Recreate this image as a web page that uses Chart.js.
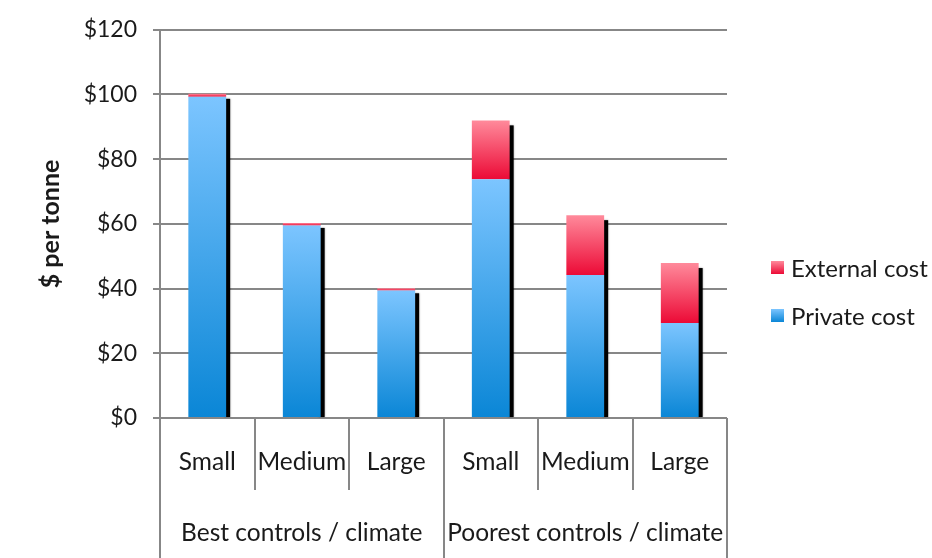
<!DOCTYPE html>
<html>
<head>
<meta charset="utf-8">
<script src="https://cdn.jsdelivr.net/npm/chart.js@4/dist/chart.umd.min.js"></script>
<style>
  html, body { margin: 0; padding: 0; background: #fff; }
  #wrap { position: relative; width: 932px; height: 558px; }
  #legend { position: absolute; left: 771px; top: 243px; font-family: Lato, sans-serif; font-size: 24px; color: #1a1a1a; }
  .item { display: flex; align-items: center; height: 48px; white-space: nowrap; }
  .sw { width: 13px; height: 13px; margin-right: 7px; }
</style>
</head>
<body>
<div id="wrap">
  <canvas id="c" width="932" height="558"></canvas>
  <div id="legend"></div>
</div>
<script>
// Cost per tonne by plant size, under two control / climate scenarios
const sizes = ['Small', 'Medium', 'Large', 'Small', 'Medium', 'Large'];
const groups = ['Best controls / climate', 'Poorest controls / climate'];
const privateCost = [99.3, 59.5, 39.4, 73.8, 44.2, 29.4];
const externalCost = [0.9, 0.8, 0.7, 18.2, 18.5, 18.5];
const yMin = 0, yMax = 120, yStep = 20;

const FONT = 'Lato, sans-serif';
const GRID = '#878787';
const TEXT = '#1a1a1a';

const blue = { top: '#7cc5ff', bottom: '#0a86d6' };
const red = { top: '#ff8a9b', bottom: '#ec0a36' };

// Vertical gradient per bar segment, from the segment's own value range
function segmentFill(colors, startOf, endOf) {
  return (c) => {
    const chart = c.chart;
    const y = chart.scales.y;
    if (c.type !== 'data' || !y || !chart.chartArea) return colors.bottom;
    const i = c.dataIndex;
    const y0 = y.getPixelForValue(startOf(i));
    const y1 = y.getPixelForValue(endOf(i));
    if (!isFinite(y0) || !isFinite(y1) || y0 === y1) return colors.bottom;
    const g = chart.ctx.createLinearGradient(0, y1, 0, y0);
    g.addColorStop(0, colors.top);
    g.addColorStop(1, colors.bottom);
    return g;
  };
}

// Dark drop shadow on the right side of each stacked column
const columnShadow = {
  id: 'columnShadow',
  beforeDatasetsDraw(chart) {
    const { ctx, chartArea } = chart;
    const topMeta = chart.getDatasetMeta(chart.data.datasets.length - 1);
    const baseMeta = chart.getDatasetMeta(0);
    ctx.save();
    ctx.beginPath();
    ctx.rect(chartArea.left, chartArea.top, chartArea.right - chartArea.left, chartArea.bottom - chartArea.top);
    ctx.clip();
    ctx.fillStyle = '#000';
    ctx.shadowColor = 'rgba(0,0,0,0.45)';
    ctx.shadowBlur = 2;
    topMeta.data.forEach((bar, i) => {
      const p = bar.getProps(['x', 'y', 'width'], true);
      const base = baseMeta.data[i].base;
      const right = p.x + p.width / 2;
      ctx.fillRect(right - 2, p.y + 5, 6, base - p.y - 5);
    });
    ctx.restore();
  }
};

// Category dividers and the group labels beneath the size labels
const groupAxis = {
  id: 'groupAxis',
  afterDraw(chart) {
    const { ctx, chartArea } = chart;
    const xs = chart.scales.x;
    const n = sizes.length;
    const per = n / groups.length;
    const step = xs.getPixelForValue(1) - xs.getPixelForValue(0);
    const first = xs.getPixelForValue(0) - step / 2;
    ctx.save();
    ctx.strokeStyle = GRID;
    ctx.lineWidth = 2;
    for (let k = 0; k <= n; k++) {
      const px = Math.round(first + k * step);
      const full = k % per === 0;
      ctx.beginPath();
      ctx.moveTo(px, chartArea.bottom);
      ctx.lineTo(px, full ? chart.height : chartArea.bottom + 72);
      ctx.stroke();
    }
    ctx.fillStyle = TEXT;
    ctx.font = '24.5px ' + FONT;
    ctx.textAlign = 'center';
    ctx.textBaseline = 'middle';
    groups.forEach((g, j) => {
      const cx = first + (j * per + per / 2) * step;
      ctx.fillText(g, cx, 533);
    });
    ctx.restore();
  }
};

const datasets = [
  {
    label: 'Private cost',
    data: privateCost,
    backgroundColor: segmentFill(blue, () => 0, (i) => privateCost[i]),
    legendColor: blue
  },
  {
    label: 'External cost',
    data: externalCost,
    backgroundColor: segmentFill(red, (i) => privateCost[i], (i) => privateCost[i] + externalCost[i]),
    legendColor: red
  }
];

new Chart(document.getElementById('c'), {
  type: 'bar',
  data: { labels: sizes, datasets },
  options: {
    responsive: false,
    animation: false,
    layout: { padding: { left: 0, right: 205, top: 28, bottom: 0 } },
    datasets: { bar: { barPercentage: 0.4, categoryPercentage: 1.0, borderWidth: 0 } },
    plugins: { legend: { display: false }, tooltip: { enabled: false } },
    scales: {
      x: {
        stacked: true,
        grid: { display: false, drawTicks: false },
        border: { display: false },
        ticks: { color: TEXT, font: { family: FONT, size: 24.5 }, padding: 29, maxRotation: 0, autoSkip: false },
        afterFit(scale) { scale.height = 140; }
      },
      y: {
        stacked: true,
        min: yMin,
        max: yMax,
        grid: { color: GRID, lineWidth: 2, tickLength: 7 },
        border: { color: GRID, width: 2 },
        ticks: {
          stepSize: yStep,
          color: TEXT,
          padding: 16,
          font: { family: FONT, size: 23 },
          callback: (v) => '$' + v
        },
        title: {
          display: true,
          text: '$ per tonne',
          color: TEXT,
          font: { family: FONT, size: 25, weight: 'bold' },
          padding: { top: 36, bottom: 0 }
        },
        afterFit(scale) { scale.width = 160; }
      }
    }
  },
  plugins: [columnShadow, groupAxis]
});

// Legend, listed top-down in stacking order
const legend = document.getElementById('legend');
datasets.slice().reverse().forEach((ds) => {
  const item = document.createElement('div');
  item.className = 'item';
  const sw = document.createElement('span');
  sw.className = 'sw';
  sw.style.background = 'linear-gradient(' + ds.legendColor.top + ',' + ds.legendColor.bottom + ')';
  const label = document.createElement('span');
  label.textContent = ds.label;
  item.appendChild(sw);
  item.appendChild(label);
  legend.appendChild(item);
});
</script>
</body>
</html>
